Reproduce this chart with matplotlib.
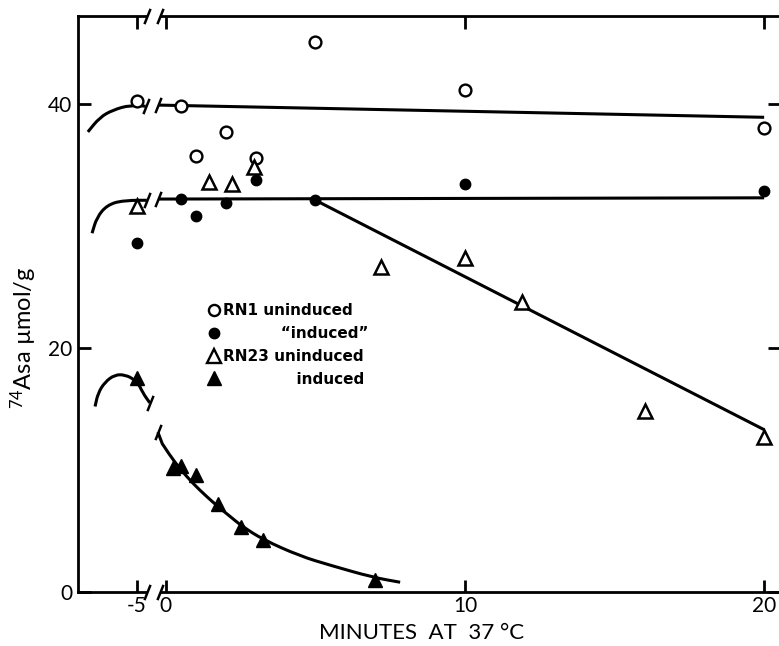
import numpy as np
import matplotlib
matplotlib.use("Agg")
import matplotlib.pyplot as plt
from matplotlib.path import Path
from matplotlib.patches import PathPatch
from matplotlib.lines import Line2D

plt.rcParams["font.family"] = ["Lato", "DejaVu Sans"]
plt.rcParams["mathtext.default"] = "regular"
plt.rcParams["axes.unicode_minus"] = False

# ---- measured points (minutes at 37 C, 74As umol/g) ----
t_rn1 = [-5, 0.5, 1, 2, 3, 5, 10, 20]
rn1_uninduced = [40.2, 39.8, 35.7, 37.7, 35.6, 45.1, 41.1, 38.0]
rn1_induced = [28.6, 32.2, 30.8, 31.9, 33.8, 32.1, 33.4, 32.9]

t_rn23_un = [-5, 1.45, 2.2, 2.95, 7.2, 10, 11.9, 16, 20]
rn23_uninduced = [31.6, 33.6, 33.4, 34.8, 26.6, 27.4, 23.8, 14.8, 12.7]

t_rn23_ind = [-5, 0.25, 0.5, 1, 1.75, 2.5, 3.25, 7]
rn23_induced = [17.5, 10.2, 10.3, 9.6, 7.2, 5.3, 4.3, 1.0]

# ---- hand-drawn curves (loading phase before the break, then the run) ----
rn1_pre_t = [-6.64, -6.24, -5.80, -5.23, -3.5]
rn1_pre_y = [37.7, 38.9, 39.5, 39.9, 39.8]
rn1_run_t = [-1.3, 20]
rn1_run_y = [39.9, 38.9]

ind_pre_t = [-6.50, -6.34, -6.00, -5.47, -3.3]
ind_pre_y = [29.4, 30.7, 31.7, 32.1, 32.1]
ind_run_t = [-1.3, 20]
ind_run_y = [32.2, 32.3]

rn23_un_run_t = [5, 20]
rn23_un_run_y = [32.1, 13.3]

rn23_pre_t = [-6.40, -6.30, -6.07, -5.74, -5.40, -5.07, -3.97, -2.78]
rn23_pre_y = [15.2, 16.3, 17.2, 17.8, 17.8, 17.4, 16.3, 15.5]
rn23_run_t = [-1.39, 0.13, 0.47, 0.90, 1.37, 1.74, 2.14, 2.54, 3.24, 4.48, 5.48, 6.92, 7.83]
rn23_run_y = [13.1, 11.2, 10.1, 8.9, 7.8, 7.0, 6.2, 5.4, 4.3, 2.95, 2.2, 1.2, 0.8]

x_ticks = [-5, 0, 10, 20]
x_ticklabels = ["-5", "0", "10", "20"]
y_ticks = [0, 20, 40]
axis_break_t = [-3.3, -1.0]

# ---- broken time axis: the interval -5..0 is squeezed ----
G = 0.194


def fwd(x):
    x = np.asarray(x, float)
    return np.where(x >= 0, x, np.where(x >= -5, x * G, x + 5 - 5 * G))


def inv(p):
    p = np.asarray(p, float)
    return np.where(p >= 0, p, np.where(p >= -5 * G, p / G, p - 5 + 5 * G))


fig = plt.figure(figsize=(7.79, 6.46), dpi=100)
ax = fig.add_axes([78 / 779, 54 / 646, 702 / 779, 576 / 646])
ax.set_xscale("function", functions=(fwd, inv))
ax.set_xlim(-6.97, 20.53)
ax.set_ylim(0, 47.2)

LW = 2.2


def smooth(t, y):
    pts = list(zip(t, y))
    if len(pts) < 3:
        return Path(pts)
    verts = [pts[0]]
    codes = [Path.MOVETO]
    mid = lambda a, b: ((a[0] + b[0]) / 2, (a[1] + b[1]) / 2)
    verts.append(mid(pts[0], pts[1]))
    codes.append(Path.LINETO)
    for i in range(1, len(pts) - 1):
        verts += [pts[i], mid(pts[i], pts[i + 1])]
        codes += [Path.CURVE3, Path.CURVE3]
    verts.append(pts[-1])
    codes.append(Path.LINETO)
    return Path(verts, codes)


for t, y in [(rn1_pre_t, rn1_pre_y), (rn1_run_t, rn1_run_y),
             (ind_pre_t, ind_pre_y), (ind_run_t, ind_run_y),
             (rn23_un_run_t, rn23_un_run_y),
             (rn23_pre_t, rn23_pre_y), (rn23_run_t, rn23_run_y)]:
    ax.add_patch(PathPatch(smooth(t, y), facecolor="none", edgecolor="black",
                           lw=LW, capstyle="butt", zorder=2))

slash = Path([(-0.4, -1.0), (0.4, 1.0)], [Path.MOVETO, Path.LINETO])

# break marks at the ends of the curves
brk_t = [rn1_pre_t[-1], rn1_run_t[0], ind_pre_t[-1], ind_run_t[0],
         rn23_pre_t[-1], rn23_run_t[0]]
brk_y = [rn1_pre_y[-1], rn1_run_y[0], ind_pre_y[-1], ind_run_y[0],
         rn23_pre_y[-1], rn23_run_y[0]]
ax.plot(brk_t, brk_y, ls="none", marker=slash, ms=11, mew=1.8, color="black", zorder=3)

# data points
ax.plot(t_rn1, rn1_uninduced, ls="none", marker="o", ms=8.5, mfc="white",
        mec="black", mew=1.7, zorder=4)
ax.plot(t_rn1, rn1_induced, ls="none", marker="o", ms=7.5, mfc="black",
        mec="black", zorder=4)
ax.plot(t_rn23_un, rn23_uninduced, ls="none", marker="^", ms=10, mfc="white",
        mec="black", mew=1.8, zorder=4)
ax.plot(t_rn23_ind, rn23_induced, ls="none", marker="^", ms=10, mfc="black",
        mec="black", zorder=4)

# frame and ticks
for s in ["left", "bottom", "top", "right"]:
    ax.spines[s].set_linewidth(2.0)
ax.set_xticks(x_ticks)
ax.set_xticklabels(x_ticklabels)
ax.set_yticks(y_ticks)
ax.xaxis.set_minor_locator(matplotlib.ticker.NullLocator())
ax.tick_params(direction="in", length=9, width=2.0, top=True, right=True,
               labelsize=15, color="black")
ax.tick_params(axis="x", pad=3)
ax.tick_params(axis="y", pad=4)

# gaps and slashes marking the break on the top and bottom axes
ytop = ax.get_ylim()[1]
for yb in [0, ytop]:
    ax.plot(axis_break_t, [yb, yb], color="white", lw=4, solid_capstyle="butt",
            clip_on=False, zorder=5)
    ax.plot(axis_break_t, [yb, yb], ls="none", marker=slash, ms=11, mew=1.8,
            color="black", clip_on=False, zorder=6)

# legend
handles = [
    Line2D([], [], ls="none", marker="o", ms=8, mfc="white", mec="black", mew=1.7),
    Line2D([], [], ls="none", marker="o", ms=7.5, mfc="black", mec="black"),
    Line2D([], [], ls="none", marker="^", ms=9.5, mfc="white", mec="black", mew=1.7),
    Line2D([], [], ls="none", marker="^", ms=9.5, mfc="black", mec="black"),
]
labels = ["RN1 uninduced", "           \u201cinduced\u201d",
          "RN23 uninduced", "              induced"]
ax.legend(handles, labels, loc="upper left",
          bbox_to_anchor=(208 / 779, 1 - 303 / 646), bbox_transform=fig.transFigure,
          frameon=False, handlelength=0.8, handletextpad=0.2, borderpad=0,
          borderaxespad=0, labelspacing=0.52,
          prop={"family": ["DejaVu Sans"], "size": 11, "weight": "bold"})

fig.text(422 / 779, 1 - 633 / 646, "MINUTES  AT  37 \u00b0C", ha="center", va="center",
         fontsize=16)
fig.text(24 / 779, 1 - 338 / 646, "$^{74}$Asa \u00b5mol/g", ha="center", va="center",
         rotation=90, fontsize=17)

fig.savefig("out.png", dpi=100)
